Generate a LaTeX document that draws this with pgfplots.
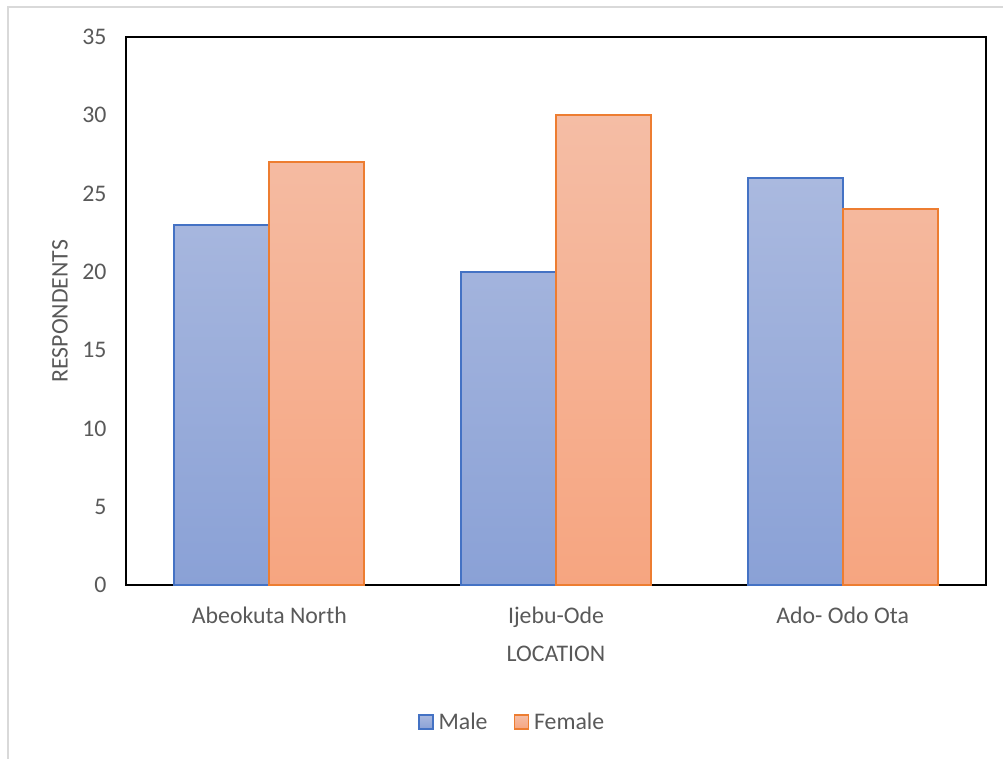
\documentclass[border=0pt]{standalone}
\usepackage{fontspec}
\setmainfont{Carlito}
\usepackage{pgfplots}
\pgfplotsset{compat=1.18}
\definecolor{txt}{HTML}{595959}
\definecolor{frame}{HTML}{D9D9D9}
\definecolor{maleedge}{HTML}{4472C4}
\definecolor{maletop}{HTML}{AAB9DF}
\definecolor{malebot}{HTML}{8AA1D6}
\definecolor{femedge}{HTML}{ED7D31}
\definecolor{femtop}{HTML}{F5BDA5}
\definecolor{fembot}{HTML}{F6A580}
\begin{document}
\begin{tikzpicture}
\useasboundingbox (0pt,0pt) rectangle (1003pt,758pt);
\draw[frame, line width=1.5pt] (8pt,-20pt) rectangle (1030pt,751pt);
\begin{axis}[
  at={(126pt,173pt)}, anchor=south west,
  scale only axis, width=860pt, height=548pt,
  xmin=-0.5, xmax=2.5, ymin=0, ymax=35,
  ytick={0,5,...,35},
  xtick={0,1,2},
  xticklabels={Abeokuta North, Ijebu-Ode, Ado- Odo Ota},
  xtick style={draw=none}, ytick style={draw=none},
  axis line style={black, line width=1.6pt},
  /pgf/number format/assume math mode=true,
  ticklabel style={font=\fontsize{23.8}{28}\selectfont, text=txt},
  yticklabel style={xshift=-16pt},
  xticklabel style={yshift=-14pt},
  ylabel={RESPONDENTS},
  xlabel={LOCATION},
  label style={font=\fontsize{23.8}{28}\selectfont, text=txt},
  ylabel style={at={(axis description cs:-0.0767,0.5)}, anchor=center},
  xlabel style={at={(axis description cs:0.5,-0.126)}, anchor=center},
  ybar=0pt, bar width=95pt,
  legend columns=2,
  legend style={draw=none, fill=none, at={(axis description cs:0.449,-0.25)}, anchor=center,
    font=\fontsize{23.8}{28}\selectfont, text=txt,
    /tikz/every odd column/.append style={column sep=3pt},
    /tikz/every even column/.append style={column sep=24pt}},
  legend image code/.code={\draw[#1, line width=1.5pt] (0pt,-7pt) rectangle (14pt,7pt);},
]
\addplot[draw=maleedge, line width=1.7pt, top color=maletop, bottom color=malebot]
  coordinates {(0,23) (1,20) (2,26)};
\addplot[draw=femedge, line width=1.7pt, top color=femtop, bottom color=fembot]
  coordinates {(0,27) (1,30) (2,24)};
\legend{Male, Female}
\end{axis}
\end{tikzpicture}
\end{document}
